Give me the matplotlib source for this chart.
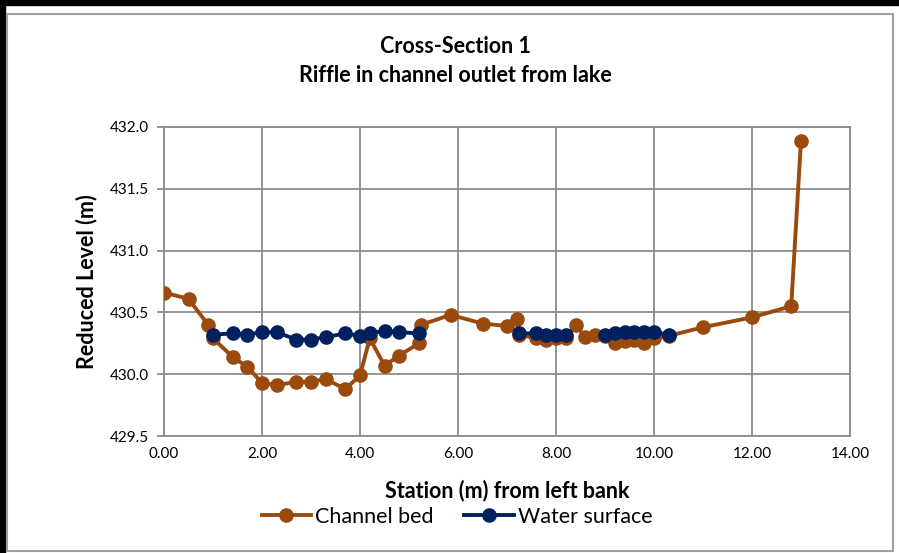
import numpy as np
import matplotlib
matplotlib.use("Agg")
import matplotlib.pyplot as plt
from matplotlib.patches import Rectangle

# channel bed survey
bed_x = [0, 0.5, 0.9, 1.0, 1.4, 1.7, 2.0, 2.3, 2.7, 3.0, 3.3, 3.7, 4.0, 4.2, 4.5, 4.8,
         5.2, 5.25, 5.85, 6.5, 7.0, 7.2, 7.25, 7.6, 7.8, 8.0, 8.2, 8.4, 8.6, 8.8,
         9.0, 9.2, 9.4, 9.6, 9.8, 10.0, 10.3, 11.0, 12.0, 12.8, 13.0]
bed_y = [430.66, 430.61, 430.40, 430.29, 430.14, 430.06, 429.93, 429.91, 429.94, 429.94,
         429.96, 429.88, 429.99, 430.29, 430.07, 430.15, 430.25, 430.40, 430.48, 430.41,
         430.39, 430.45, 430.32, 430.29, 430.28, 430.29, 430.29, 430.40, 430.30, 430.32,
         430.31, 430.25, 430.27, 430.28, 430.25, 430.29, 430.31, 430.38, 430.46, 430.55, 431.89]

# water surface (nan = no reading, line breaks)
ws_x = [1.0, 1.4, 1.7, 2.0, 2.3, 2.7, 3.0, 3.3, 3.7, 4.0, 4.2, 4.5, 4.8, 5.2, np.nan,
        7.25, 7.6, 7.8, 8.0, 8.2, np.nan,
        9.0, 9.2, 9.4, 9.6, 9.8, 10.0, 10.3]
ws_y = [430.32, 430.33, 430.32, 430.34, 430.34, 430.28, 430.28, 430.30, 430.33, 430.31,
        430.33, 430.35, 430.34, 430.33, np.nan,
        430.33, 430.33, 430.32, 430.32, 430.32, np.nan,
        430.32, 430.33, 430.34, 430.34, 430.34, 430.34, 430.32]

x_ticks = [0, 2, 4, 6, 8, 10, 12, 14]
y_ticks = [429.5, 430.0, 430.5, 431.0, 431.5, 432.0]

orange = "#9a4a0c"
navy = "#00215e"
grid_c = "#8c8c8c"

plt.rcParams['font.family'] = ['Lato', 'DejaVu Sans']

fig = plt.figure(figsize=(8.99, 5.53), dpi=100)
ax = fig.add_axes([164 / 899, 1 - 436 / 553, 686 / 899, 309 / 553])

ax.plot(bed_x, bed_y, color=orange, lw=2.8, marker='o', ms=9.5, label='Channel bed', zorder=3)
ax.plot(ws_x, ws_y, color=navy, lw=2.8, marker='o', ms=9.5, label='Water surface', zorder=4)

ax.set_xlim(0, 14)
ax.set_ylim(429.5, 432.0)
ax.set_xticks(x_ticks)
ax.set_xticklabels([f"{v:.2f}" for v in x_ticks])
ax.set_yticks(y_ticks)
ax.set_yticklabels([f"{v:.1f}" for v in y_ticks])
ax.grid(True, color=grid_c, lw=1.3)
ax.set_axisbelow(True)
for s in ax.spines.values():
    s.set_color(grid_c)
    s.set_linewidth(1.3)
ax.tick_params(axis='y', length=5, color=grid_c, width=1.3, labelsize=11, pad=6)
ax.tick_params(axis='x', length=0, labelsize=11, pad=8)

ax.set_xlabel("Station (m) from left bank", fontsize=15.5, fontweight='bold', labelpad=13)
ax.set_ylabel("Reduced Level (m)", fontsize=15.5, fontweight='bold', labelpad=9)

fig.text(455 / 899, 1 - 47 / 553, "Cross-Section 1", ha='center', va='center',
         fontsize=15.5, fontweight='bold')
fig.text(455 / 899, 1 - 76 / 553, "Riffle in channel outlet from lake", ha='center', va='center',
         fontsize=15.5, fontweight='bold')

ax.legend(loc='center', bbox_to_anchor=(457 / 899, 1 - 517 / 553), bbox_transform=fig.transFigure,
          ncol=2, frameon=False, fontsize=15.5, handlelength=2.3, columnspacing=1.4,
          handletextpad=0.2, borderpad=0)

# outer frame
fig.patches.append(Rectangle((0, 1 - 5 / 553), 1, 5 / 553, transform=fig.transFigure,
                             color='black', zorder=0))
fig.patches.append(Rectangle((0, 0), 5 / 899, 1, transform=fig.transFigure,
                             color='black', zorder=0))
fig.patches.append(Rectangle((7 / 899, 2 / 553), 886 / 899, 537 / 553, transform=fig.transFigure,
                             fill=False, edgecolor='#a0a0a0', lw=1.5, zorder=0))

fig.savefig("out.png", dpi=100)
